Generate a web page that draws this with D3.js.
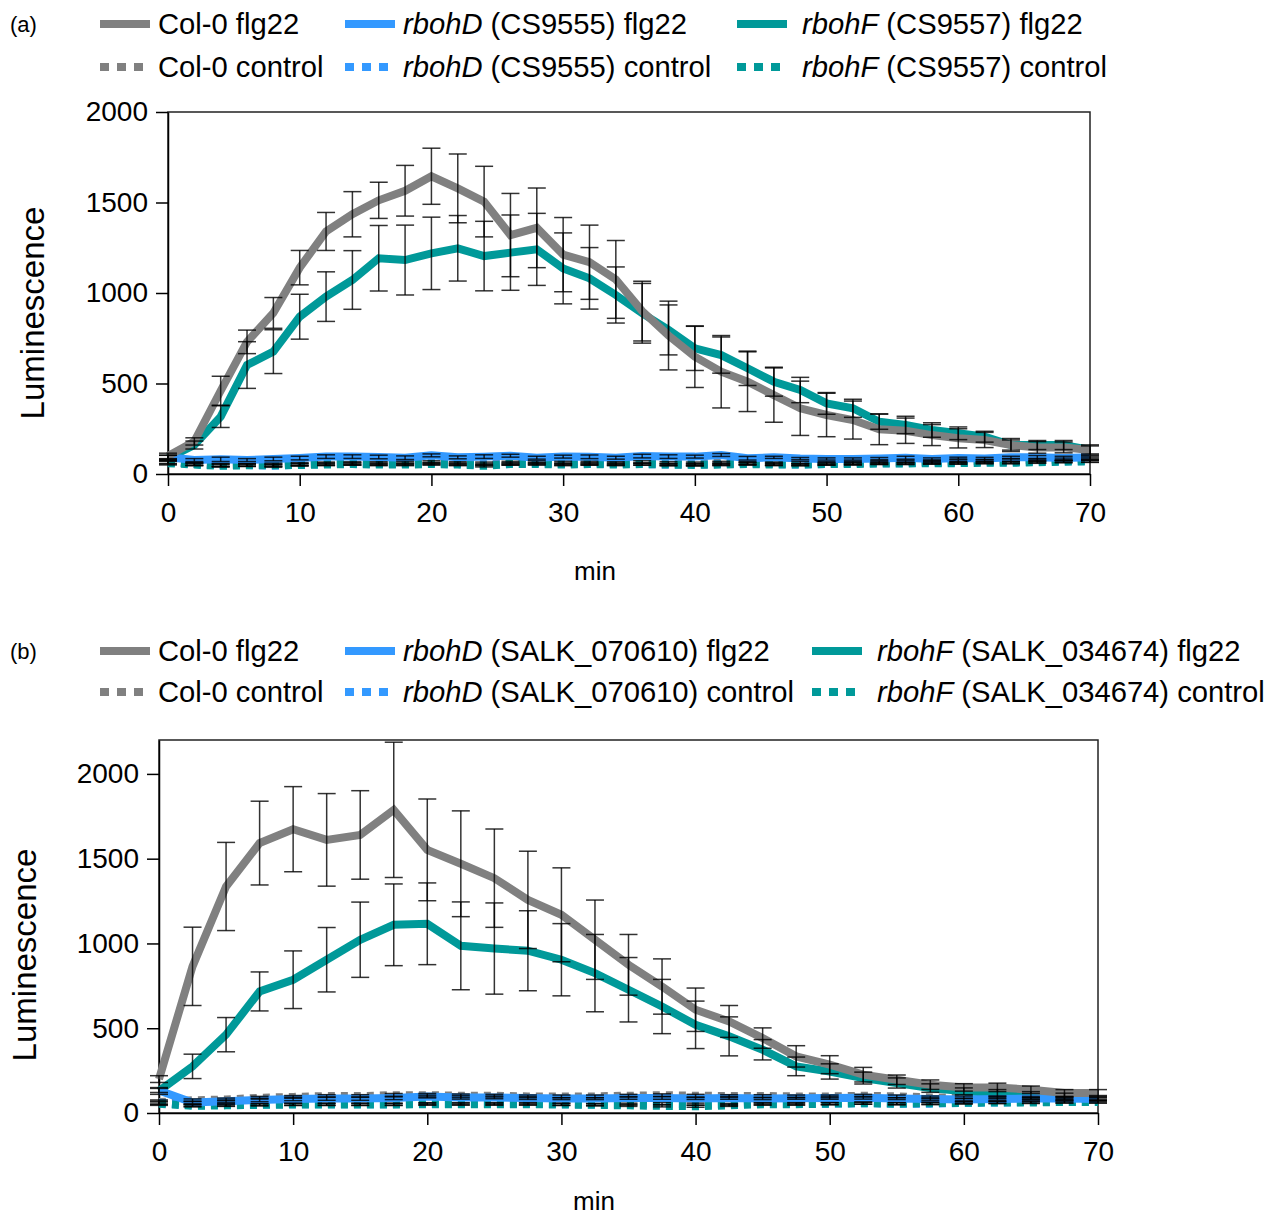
<!DOCTYPE html>
<html>
<head>
<meta charset="utf-8">
<script src="https://cdn.jsdelivr.net/npm/d3@7"></script>
<style>
  body { margin: 0; background: #fff; }
  svg { font-family: "Liberation Sans", Arial, sans-serif; }
</style>
</head>
<body>
<svg id="svg" width="1281" height="1217"></svg>
<script>
// DATA  (a): every 2 min
var timesA = [0,2,4,6,8,10,12,14,16,18,20,22,24,26,28,30,32,34,36,38,40,42,44,46,48,50,52,54,56,58,60,62,64,66,68,70];
var aCol0Flg = [100,180,460,730,890,1140,1340,1435,1512,1565,1645,1578,1505,1320,1360,1212,1170,1075,900,765,648,565,510,436,363,326,298,247,239,215,197,188,160,147,147,133];
var aCol0FlgErr = [15,20,80,65,85,95,105,125,100,140,155,190,195,230,220,205,205,215,165,190,170,200,165,150,150,120,105,85,70,58,53,42,36,32,30,28];
var aRbohDFlg = [92,77,81,77,83,88,96,96,94,90,103,92,96,101,90,96,95,90,99,96,96,105,87,92,85,83,83,85,90,83,88,86,92,92,88,92];
var aRbohDFlgErr = [12,8,12,8,10,10,10,10,10,10,8,8,10,8,8,8,10,8,10,10,8,8,10,6,6,6,6,6,8,6,5,6,6,10,10,8];
var aRbohFFlg = [88,160,317,602,676,869,980,1072,1192,1182,1219,1247,1204,1223,1241,1136,1081,989,888,796,694,657,584,510,464,390,363,289,271,243,225,206,160,160,160,133];
var aRbohFFlgErr = [15,22,60,129,121,124,137,162,181,193,200,181,192,208,199,196,170,155,165,138,122,100,95,80,70,60,50,42,48,40,35,30,28,25,25,22];
var aCol0Ctrl = [70,55,50,50,52,55,58,60,60,62,65,60,58,62,65,62,62,60,65,60,58,62,60,58,62,60,62,65,68,68,70,72,75,78,80,85];
var aCol0CtrlErr = [12,8,8,8,8,8,8,8,8,8,8,8,8,8,8,8,8,8,8,8,8,8,8,8,8,8,8,8,8,8,8,8,8,8,8,8];
var aRbohDCtrl = [65,55,48,50,45,52,55,55,55,55,58,55,52,55,58,55,55,55,55,52,52,55,58,55,52,55,58,60,60,62,62,65,65,68,70,72];
var aRbohDCtrlErr = [10,6,8,6,8,6,6,6,6,6,6,6,6,6,6,6,6,6,6,6,6,6,6,6,6,6,6,6,6,6,6,6,6,6,6,6];
var aRbohFCtrl = [60,52,45,48,48,50,52,55,52,52,55,52,45,55,55,52,55,52,55,52,50,52,55,52,52,55,55,58,58,60,60,62,62,65,68,70];
var aRbohFCtrlErr = [10,6,6,6,6,6,6,6,6,6,6,6,6,6,6,6,6,6,6,6,6,6,6,6,6,6,6,6,6,6,6,6,6,6,6,6];

// DATA  (b): every 2.5 min
var timesB = [0,2.5,5,7.5,10,12.5,15,17.5,20,22.5,25,27.5,30,32.5,35,37.5,40,42.5,45,47.5,50,52.5,55,57.5,60,62.5,65,67.5,70];
var bCol0Flg = [200,865,1336,1592,1674,1611,1640,1788,1552,1470,1385,1257,1169,1022,874,746,609,540,442,334,285,226,196,167,151,151,137,118,118];
var bCol0FlgErr = [20,231,260,247,251,273,261,399,300,312,290,287,277,234,179,163,128,94,60,63,53,43,28,28,22,25,22,20,20];
var bRbohDFlg = [133,62,69,77,83,85,85,89,97,92,92,88,85,85,89,89,86,89,85,87,89,90,85,82,80,82,85,85,82];
var bRbohDFlgErr = [12,8,8,10,10,10,10,10,8,10,8,8,6,6,8,8,6,8,6,6,8,8,6,8,8,8,6,8,6];
var bRbohFFlg = [130,275,462,717,786,904,1022,1110,1116,986,970,957,904,825,727,628,520,452,373,275,245,206,177,147,128,118,108,102,88];
var bRbohFFlgErr = [20,72,101,115,170,190,222,241,241,259,269,236,213,228,190,160,140,115,60,55,45,35,30,25,20,20,18,15,15];
var bCol0Ctrl = [65,75,80,90,95,100,100,105,105,102,102,98,98,98,102,105,102,100,100,98,98,102,98,92,92,92,90,88,85];
var bCol0CtrlErr = [12,8,8,8,8,8,8,10,10,10,8,8,8,8,8,8,8,8,8,8,8,8,8,8,8,8,8,8,8];
var bRbohDCtrl = [60,45,48,50,52,52,52,52,55,55,55,55,52,50,52,55,52,50,55,55,55,58,55,55,60,62,65,65,65];
var bRbohDCtrlErr = [10,6,6,6,6,6,6,6,6,6,6,6,6,6,6,6,6,6,6,6,6,6,6,6,6,6,6,6,6];
var bRbohFCtrl = [55,42,45,48,50,50,50,50,52,52,52,52,50,48,45,42,40,45,52,52,55,58,55,58,60,62,62,65,65];
var bRbohFCtrlErr = [10,6,6,6,6,6,6,6,6,6,6,6,6,6,6,6,6,6,6,6,6,6,6,6,6,6,6,6,6];

var xTicks = [0,10,20,30,40,50,60,70];
var yTicks = [0,500,1000,1500,2000];
var labelsA = [["", "Col-0 flg22"], ["rbohD", " (CS9555) flg22"], ["rbohF", " (CS9557) flg22"],
               ["", "Col-0 control"], ["rbohD", " (CS9555) control"], ["rbohF", " (CS9557) control"]];
var labelsB = [["", "Col-0 flg22"], ["rbohD", " (SALK_070610) flg22"], ["rbohF", " (SALK_034674) flg22"],
               ["", "Col-0 control"], ["rbohD", " (SALK_070610) control"], ["rbohF", " (SALK_034674) control"]];

var GRAY = "#808080", BLUE = "#3399ff", TEAL = "#009999";
var colors = [GRAY, BLUE, TEAL, GRAY, BLUE, TEAL];
var dashed = [false, false, false, true, true, true];

var svg = d3.select("#svg");

function drawPanel(o) {
  var x = d3.scaleLinear().domain([0, 70]).range([o.left, o.right]);
  var y = d3.scaleLinear().domain([0, o.yMax]).range([o.bottom, o.top]);
  var g = svg.append("g");

  // frame
  g.append("rect")
    .attr("x", o.left).attr("y", o.top)
    .attr("width", o.right - o.left).attr("height", o.bottom - o.top)
    .attr("fill", "none").attr("stroke", "#222").attr("stroke-width", 1.5);

  var xa = g.append("g")
    .attr("transform", "translate(0," + o.bottom + ")")
    .call(d3.axisBottom(x).tickValues(xTicks).tickSize(12).tickPadding(16).tickSizeOuter(0));
  var ya = g.append("g")
    .attr("transform", "translate(" + o.left + ",0)")
    .call(d3.axisLeft(y).tickValues(yTicks).tickFormat(d3.format("d")).tickSize(12).tickPadding(8).tickSizeOuter(0));
  [xa, ya].forEach(function (a) {
    a.selectAll("path, line").attr("stroke", "#000").attr("stroke-width", 1.5);
    a.selectAll("text").attr("font-size", 28).attr("fill", "#000")
      .attr("font-family", "Liberation Sans, Arial, sans-serif");
  });

  var line = d3.line()
    .x(function (d) { return x(d.t); })
    .y(function (d) { return y(d.v); });

  var series = o.series.map(function (s, i) {
    return {
      color: colors[i], dashed: dashed[i],
      pts: o.times.map(function (t, j) { return { t: t, v: s.v[j], e: s.e[j] }; })
    };
  });

  // controls first, then rbohF, rbohD, Col-0 flg22 on top
  var order = [3, 4, 5, 2, 1, 0];
  order.forEach(function (i) {
    var s = series[i];
    g.append("path")
      .datum(s.pts)
      .attr("fill", "none")
      .attr("stroke", s.color)
      .attr("stroke-width", 8)
      .attr("stroke-dasharray", s.dashed ? "7,6" : null)
      .attr("d", line);
  });

  // error bars
  var eb = g.append("g").attr("stroke", "#000").attr("stroke-opacity", 0.8).attr("stroke-width", 1.5);
  order.forEach(function (i) {
    var s = series[i];
    var bars = eb.selectAll(null).data(s.pts).enter().append("g");
    bars.append("line")
      .attr("x1", function (d) { return x(d.t); }).attr("x2", function (d) { return x(d.t); })
      .attr("y1", function (d) { return y(d.v - d.e); }).attr("y2", function (d) { return y(d.v + d.e); });
    [-1, 1].forEach(function (sgn) {
      bars.append("line")
        .attr("x1", function (d) { return x(d.t) - 9; }).attr("x2", function (d) { return x(d.t) + 9; })
        .attr("y1", function (d) { return y(d.v + sgn * d.e); })
        .attr("y2", function (d) { return y(d.v + sgn * d.e); });
    });
  });

  // axis titles
  g.append("text")
    .attr("x", o.minX).attr("y", o.minY)
    .attr("text-anchor", "middle").attr("font-size", 26)
    .text("min");
  g.append("text")
    .attr("transform", "translate(" + o.lumX + "," + o.lumY + ") rotate(-90)")
    .attr("text-anchor", "middle").attr("font-size", 33)
    .text("Luminescence");

  // panel letter
  g.append("text").attr("x", 10).attr("y", o.legY[0] + 8)
    .attr("font-size", 22).text(o.letter);

  // legend
  o.labels.forEach(function (lab, i) {
    var col = i % 3, row = Math.floor(i / 3);
    var ly = o.legY[row];
    g.append("line")
      .attr("x1", o.legX[col]).attr("x2", o.legX[col] + 50)
      .attr("y1", ly).attr("y2", ly)
      .attr("stroke", colors[i]).attr("stroke-width", 8)
      .attr("stroke-dasharray", dashed[i] ? "9,8" : null);
    var t = g.append("text")
      .attr("x", o.legTX[col]).attr("y", ly + 10)
      .attr("font-size", 29.2);
    if (lab[0]) t.append("tspan").attr("font-style", "italic").text(lab[0]);
    t.append("tspan").text(lab[1]);
  });
}

drawPanel({
  letter: "(a)", times: timesA, yMax: 2000,
  left: 168, right: 1090, top: 112, bottom: 474,
  minX: 595, minY: 580, lumX: 44, lumY: 313,
  legY: [24, 67], legX: [100, 345, 737], legTX: [158, 403, 802],
  labels: labelsA,
  series: [
    { v: aCol0Flg, e: aCol0FlgErr }, { v: aRbohDFlg, e: aRbohDFlgErr }, { v: aRbohFFlg, e: aRbohFFlgErr },
    { v: aCol0Ctrl, e: aCol0CtrlErr }, { v: aRbohDCtrl, e: aRbohDCtrlErr }, { v: aRbohFCtrl, e: aRbohFCtrlErr }
  ]
});

drawPanel({
  letter: "(b)", times: timesB, yMax: 2200,
  left: 159, right: 1098, top: 740, bottom: 1113,
  minX: 594, minY: 1210, lumX: 36, lumY: 955,
  legY: [651, 692], legX: [100, 345, 812], legTX: [158, 403, 877],
  labels: labelsB,
  series: [
    { v: bCol0Flg, e: bCol0FlgErr }, { v: bRbohDFlg, e: bRbohDFlgErr }, { v: bRbohFFlg, e: bRbohFFlgErr },
    { v: bCol0Ctrl, e: bCol0CtrlErr }, { v: bRbohDCtrl, e: bRbohDCtrlErr }, { v: bRbohFCtrl, e: bRbohFCtrlErr }
  ]
});
</script>
</body>
</html>
